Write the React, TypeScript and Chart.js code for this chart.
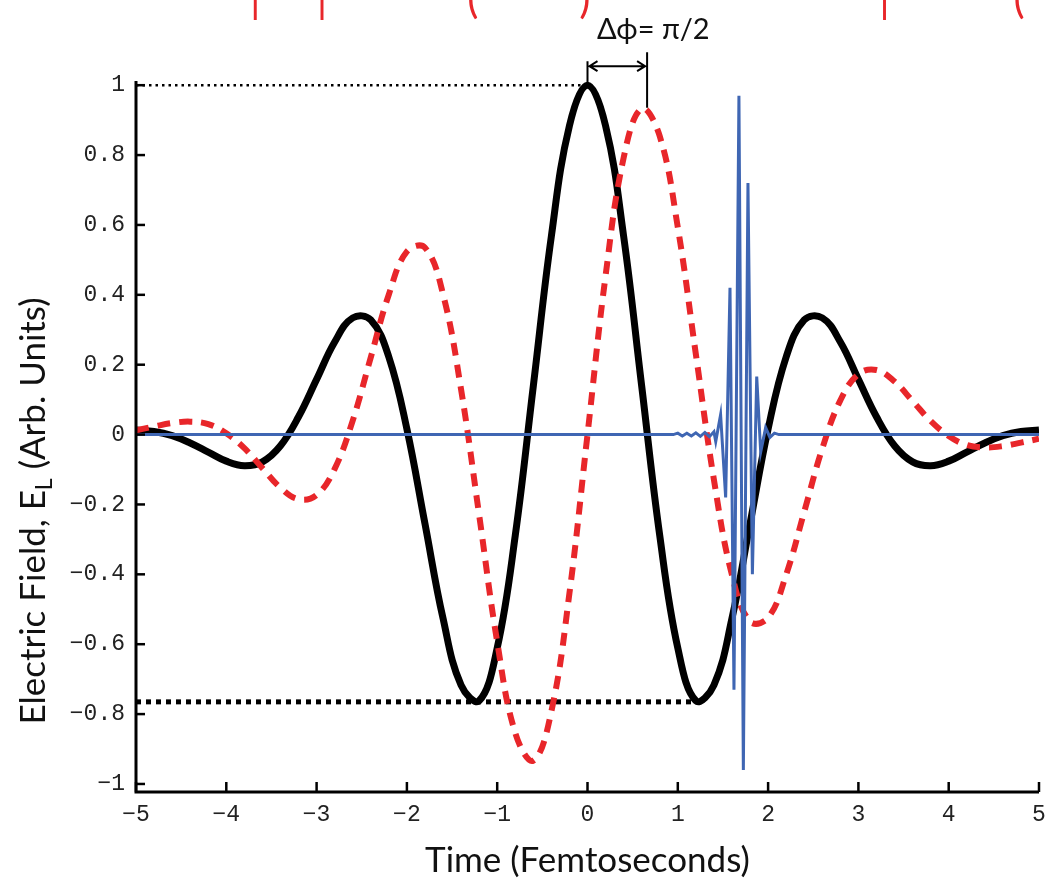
import React, { useEffect, useRef } from "react";
import { Chart, registerables } from "chart.js";

Chart.register(...registerables);

// ---- data ----
const timeFs = [
  -5, -4.8, -4.6, -4.4, -4.2, -4, -3.8, -3.6, -3.4, -3.2, -3, -2.8, -2.6, -2.4, -2.2, -2, -1.8, -1.6, -1.4, -1.2, -1,
  -0.8, -0.6, -0.4, -0.2, 0, 0.2, 0.4, 0.6, 0.8, 1, 1.2, 1.4, 1.6, 1.8, 2, 2.2, 2.4, 2.6, 2.8, 3, 3.2, 3.4, 3.6, 3.8,
  4, 4.2, 4.4, 4.6, 4.8, 5,
];

const blackField = [
  0.013, 0.009, -0.003, -0.024, -0.05, -0.076, -0.089, -0.078, -0.032, 0.051, 0.158, 0.265, 0.334, 0.328, 0.222,
  0.016, -0.255, -0.526, -0.717, -0.762, -0.611, -0.289, 0.139, 0.568, 0.884, 1.0, 0.884, 0.568, 0.139, -0.289,
  -0.611, -0.762, -0.717, -0.526, -0.255, 0.016, 0.222, 0.328, 0.334, 0.265, 0.158, 0.051, -0.032, -0.078, -0.089,
  -0.076, -0.05, -0.024, -0.003, 0.009, 0.013,
];

const redField = [
  0.012, 0.023, 0.033, 0.037, 0.03, 0.004, -0.039, -0.096, -0.152, -0.185, -0.173, -0.098, 0.04, 0.221, 0.401,
  0.524, 0.535, 0.402, 0.129, -0.23, -0.593, -0.854, -0.933, -0.792, -0.454, 0, 0.454, 0.792, 0.933, 0.854, 0.593,
  0.23, -0.129, -0.402, -0.535, -0.524, -0.401, -0.221, -0.04, 0.098, 0.173, 0.185, 0.152, 0.096, 0.039, -0.004,
  -0.03, -0.037, -0.033, -0.023, -0.012,
];

const blueTimeFs = [
  -5, 0.95, 1.0, 1.05, 1.1, 1.15, 1.2, 1.25, 1.3, 1.35, 1.4, 1.42, 1.474, 1.53, 1.578, 1.622, 1.677, 1.726, 1.777,
  1.826, 1.874, 1.918, 1.973, 2.02, 2.07, 2.12, 5,
];
const blueField = [
  0, 0, 0.004, -0.004, 0.004, -0.004, 0.005, -0.005, 0.006, -0.006, 0.008, -0.02, 0.057, -0.18, 0.42, -0.73, 0.97,
  -0.96, 0.72, -0.4, 0.166, -0.05, 0.02, -0.008, 0.004, 0, 0,
];

const xTickValues = [-5, -4, -3, -2, -1, 0, 1, 2, 3, 4, 5];
const yTickValues = [-1, -0.8, -0.6, -0.4, -0.2, 0, 0.2, 0.4, 0.6, 0.8, 1];

const peakLevel = 1;
const troughLevel = -0.765;
const troughEndFs = 1.22;
const phaseShiftFs = 0.66;
const redPeakValue = 0.93;

const xTitle = "Time (Femtoseconds)";
const yTitleParts = ["Electric Field, E", "L", " (Arb. Units)"];
const phaseLabel = "Δϕ= π/2";
const clippedCaptionGlyphs = ["|", "|", "(", ")", "|", "("];
const clippedCaptionFs = [-3.68, -2.94, -1.27, -0.03, 3.29, 4.78];

const fmtTick = (v: number) => {
  if (Math.abs(v) < 1e-9) return "0";
  const s = Number(Math.abs(v).toFixed(1)).toString();
  return (v < 0 ? "\u2212" : "") + s;
};

const decorPlugin = {
  id: "decor",
  afterDatasetsDraw(chart: any) {
    const { ctx, chartArea: ca, scales } = chart;
    const x = scales.x;
    const y = scales.y;
    ctx.save();

    // axes
    ctx.strokeStyle = "#000";
    ctx.lineWidth = 3;
    ctx.lineJoin = "miter";
    ctx.beginPath();
    ctx.moveTo(ca.left, ca.top);
    ctx.lineTo(ca.left, ca.bottom);
    ctx.lineTo(ca.right, ca.bottom);
    ctx.stroke();

    ctx.lineWidth = 2.5;
    yTickValues.forEach((v) => {
      const py = y.getPixelForValue(v);
      ctx.beginPath();
      ctx.moveTo(ca.left, py);
      ctx.lineTo(ca.left + 9, py);
      ctx.stroke();
    });
    xTickValues.forEach((v) => {
      const px = x.getPixelForValue(v);
      ctx.beginPath();
      ctx.moveTo(px, ca.bottom);
      ctx.lineTo(px, ca.bottom - 10);
      ctx.stroke();
    });

    // phase annotation
    const x0 = x.getPixelForValue(0);
    const x1 = x.getPixelForValue(phaseShiftFs);
    const yPeak = y.getPixelForValue(peakLevel);
    const yRed = y.getPixelForValue(redPeakValue);
    const yArrow = yPeak - 19;
    ctx.lineWidth = 2;
    ctx.beginPath();
    ctx.moveTo(x0, yPeak - 2);
    ctx.lineTo(x0, yPeak - 24);
    ctx.moveTo(x1, yRed - 2);
    ctx.lineTo(x1, yPeak - 33);
    ctx.moveTo(x0 + 2, yArrow);
    ctx.lineTo(x1 - 2, yArrow);
    ctx.moveTo(x0 + 10, yArrow - 5);
    ctx.lineTo(x0 + 2, yArrow);
    ctx.lineTo(x0 + 10, yArrow + 5);
    ctx.moveTo(x1 - 10, yArrow - 5);
    ctx.lineTo(x1 - 2, yArrow);
    ctx.lineTo(x1 - 10, yArrow + 5);
    ctx.stroke();

    ctx.fillStyle = "#111";
    ctx.font = "29px Lato";
    ctx.textAlign = "center";
    ctx.textBaseline = "middle";
    ctx.fillText(phaseLabel, (x0 + x1) / 2 + 36, 30);

    // x title
    ctx.font = "35px Lato";
    ctx.textBaseline = "middle";
    ctx.fillText(xTitle, (ca.left + ca.right) / 2, 861);

    // y title with subscript
    ctx.save();
    ctx.translate(45, 511);
    ctx.rotate(-Math.PI / 2);
    const mainFont = "35px Lato";
    const subFont = "23px Lato";
    ctx.font = mainFont;
    const w0 = ctx.measureText(yTitleParts[0]).width;
    const w2 = ctx.measureText(yTitleParts[2]).width;
    ctx.font = subFont;
    const w1 = ctx.measureText(yTitleParts[1]).width;
    let cx = -(w0 + w1 + w2) / 2;
    ctx.textAlign = "left";
    ctx.textBaseline = "alphabetic";
    ctx.font = mainFont;
    ctx.fillText(yTitleParts[0], cx, 0);
    cx += w0;
    ctx.font = subFont;
    ctx.fillText(yTitleParts[1], cx, 7);
    cx += w1;
    ctx.font = mainFont;
    ctx.fillText(yTitleParts[2], cx, 0);
    ctx.restore();

    // clipped red caption (only its lowest strokes remain visible at the very top)
    ctx.fillStyle = "#e8262a";
    ctx.font = "42px Lato";
    ctx.textAlign = "center";
    ctx.textBaseline = "alphabetic";
    clippedCaptionGlyphs.forEach((g, i) => {
      ctx.fillText(g, x.getPixelForValue(clippedCaptionFs[i]), 13);
    });

    ctx.restore();
  },
};

export default function App() {
  const ref = useRef<HTMLCanvasElement | null>(null);

  useEffect(() => {
    if (!ref.current) return;
    const toXY = (xs: number[], ys: number[]) => xs.map((t, i) => ({ x: t, y: ys[i] }));
    const chart = new Chart(ref.current, {
      type: "line",
      data: {
        datasets: [
          {
            data: toXY(blueTimeFs, blueField),
            borderColor: "#3f66b3",
            borderWidth: 3,
            pointRadius: 0,
            tension: 0,
            order: 1,
          },
          {
            data: toXY(timeFs, redField),
            borderColor: "#e8262a",
            borderWidth: 6,
            borderDash: [13, 9],
            pointRadius: 0,
            tension: 0.4,
            order: 2,
          },
          {
            data: toXY(timeFs, blackField),
            borderColor: "#000",
            borderWidth: 7,
            pointRadius: 0,
            tension: 0.4,
            order: 3,
          },
          {
            data: [
              { x: -5, y: peakLevel },
              { x: 0, y: peakLevel },
            ],
            borderColor: "#000",
            borderWidth: 2.5,
            borderDash: [2.5, 4],
            pointRadius: 0,
            order: 4,
          },
          {
            data: [
              { x: -5, y: troughLevel },
              { x: troughEndFs, y: troughLevel },
            ],
            borderColor: "#000",
            borderWidth: 5,
            borderDash: [5, 5],
            pointRadius: 0,
            order: 5,
          },
        ] as any,
      },
      options: {
        animation: false,
        responsive: false,
        layout: { autoPadding: false, padding: { left: 0, top: 81, right: 6, bottom: 0 } },
        plugins: { legend: { display: false }, tooltip: { enabled: false }, title: { display: false } },
        scales: {
          x: {
            type: "linear",
            min: -5,
            max: 5,
            grid: { display: false, drawTicks: false },
            border: { display: false },
            afterFit: (s: any) => {
              s.height = 93;
              s.paddingLeft = 0;
              s.paddingRight = 0;
            },
            afterBuildTicks: (s: any) => {
              s.ticks = xTickValues.map((v) => ({ value: v }));
            },
            ticks: {
              padding: 9,
              color: "#222",
              font: { family: "Liberation Mono", size: 23 },
              maxRotation: 0,
              autoSkip: false,
              callback: (v: any) => fmtTick(Number(v)),
            },
          },
          y: {
            type: "linear",
            min: -1.023,
            max: 1.012,
            grid: { display: false, drawTicks: false },
            border: { display: false },
            afterFit: (s: any) => {
              s.width = 136;
              s.paddingTop = 0;
              s.paddingBottom = 0;
            },
            afterBuildTicks: (s: any) => {
              s.ticks = yTickValues.map((v) => ({ value: v }));
            },
            ticks: {
              padding: 11,
              color: "#222",
              font: { family: "Liberation Mono", size: 23 },
              autoSkip: false,
              callback: (v: any) => fmtTick(Number(v)),
            },
          },
        },
      } as any,
      plugins: [decorPlugin],
    });
    return () => chart.destroy();
  }, []);

  return (
    <div style={{ position: "absolute", left: 0, top: 0, width: 1045, height: 885, background: "#fff" }}>
      <canvas ref={ref} width={1045} height={885} style={{ width: 1045, height: 885, display: "block" }} />
    </div>
  );
}
